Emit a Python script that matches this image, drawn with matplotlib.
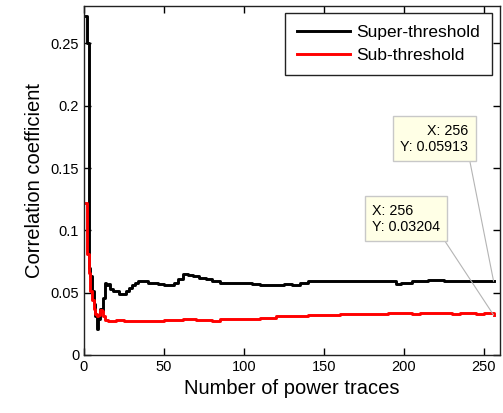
import matplotlib
matplotlib.use("Agg")
import matplotlib.pyplot as plt

plt.rcParams['font.family'] = ['Liberation Sans', 'DejaVu Sans']

# Super-threshold (black)
sup_x = [1, 2, 3, 4, 5, 6, 7, 8, 9, 10, 11, 12, 13, 14, 15, 16, 18, 20, 22, 24, 26, 28,
         30, 32, 34, 37, 40, 43, 46, 50, 53, 56, 59, 62, 65, 68, 72, 76, 80, 85, 90, 95,
         100, 105, 110, 115, 120, 125, 130, 135, 140, 145, 150, 160, 170, 180, 190, 195,
         198, 205, 215, 225, 235, 240, 248, 256]
sup_y = [0.272, 0.25, 0.07, 0.063, 0.051, 0.041, 0.031, 0.021, 0.029, 0.037, 0.035, 0.046,
         0.058, 0.056, 0.057, 0.053, 0.051, 0.051, 0.049, 0.049, 0.051, 0.054, 0.056, 0.058,
         0.059, 0.059, 0.058, 0.058, 0.057, 0.056, 0.056, 0.058, 0.061, 0.065, 0.064, 0.063,
         0.062, 0.061, 0.059, 0.058, 0.058, 0.058, 0.058, 0.057, 0.056, 0.056, 0.056, 0.057,
         0.056, 0.058, 0.059, 0.059, 0.059, 0.059, 0.059, 0.059, 0.059, 0.057, 0.058, 0.059,
         0.060, 0.059, 0.059, 0.0595, 0.059, 0.05913]

# Sub-threshold (red)
sub_x = [1, 2, 3, 4, 5, 6, 7, 8, 9, 10, 11, 12, 13, 15, 20, 25, 30, 35, 40, 45, 50, 55,
         60, 62, 66, 70, 75, 80, 85, 90, 100, 105, 110, 115, 120, 130, 140, 150, 160, 170,
         180, 190, 200, 205, 210, 220, 230, 235, 240, 245, 250, 256]
sub_y = [0.122, 0.081, 0.066, 0.051, 0.044, 0.037, 0.033, 0.031, 0.032, 0.036, 0.035,
         0.031, 0.028, 0.027, 0.028, 0.027, 0.027, 0.027, 0.027, 0.027, 0.028, 0.028,
         0.028, 0.029, 0.029, 0.028, 0.028, 0.027, 0.029, 0.029, 0.029, 0.029, 0.030,
         0.030, 0.031, 0.031, 0.032, 0.032, 0.033, 0.033, 0.033, 0.034, 0.034, 0.033,
         0.034, 0.034, 0.033, 0.034, 0.034, 0.033, 0.0335, 0.03204]

x_ticks = [0, 50, 100, 150, 200, 250]
y_ticks = [0, 0.05, 0.1, 0.15, 0.2, 0.25]
y_tick_labels = ["0", "0.05", "0.1", "0.15", "0.2", "0.25"]

fig = plt.figure(figsize=(5.03, 4.13), dpi=100)
ax = fig.add_axes([84/503, (413-355)/413, 416/503, 349/413])

ax.plot(sup_x, sup_y, color='black', lw=2.1, drawstyle='steps-post', label='Super-threshold')
ax.plot(sub_x, sub_y, color='red', lw=2.1, drawstyle='steps-post', label='Sub-threshold')

ax.set_xlim(0, 260)
ax.set_ylim(0, 0.28)
ax.set_xticks(x_ticks)
ax.set_yticks(y_ticks)
ax.set_yticklabels(y_tick_labels)
ax.tick_params(direction='in', top=True, right=True, length=5, width=1, labelsize=10.5,
               colors='black')
for s in ax.spines.values():
    s.set_linewidth(1.0)
    s.set_color('#222222')

ax.set_xlabel('Number of power traces', fontsize=14.5)
ax.set_ylabel('Correlation coefficient', fontsize=14.5, labelpad=5)

leg = ax.legend(loc='upper right', bbox_to_anchor=(0.981, 0.98), borderaxespad=0,
                fontsize=12.5, handlelength=3.1, handletextpad=0.35, labelspacing=0.45,
                fancybox=False, framealpha=1, edgecolor='#222222', borderpad=0.68)
leg.get_frame().set_linewidth(1.0)

tip_style = dict(boxstyle='square,pad=0.5', fc='#ffffe6', ec='#c8c8c8', lw=1)
ax.annotate(f"X: {sup_x[-1]}\nY: {sup_y[-1]:.5f}", xy=(sup_x[-1], sup_y[-1]),
            xytext=(219, 0.1735), textcoords='data', ha='center', va='center',
            multialignment='right', fontsize=10.3, bbox=tip_style,
            arrowprops=dict(arrowstyle='-', color='#b4b4b4', lw=0.8, relpos=(1, 0),
                            shrinkA=0, shrinkB=0))
ax.annotate(f"X: {sub_x[-1]}\nY: {sub_y[-1]:.5f}", xy=(sub_x[-1], sub_y[-1]),
            xytext=(201.3, 0.1094), textcoords='data', ha='center', va='center',
            multialignment='left', fontsize=10.3, bbox=tip_style,
            arrowprops=dict(arrowstyle='-', color='#b4b4b4', lw=0.8, relpos=(1, 0),
                            shrinkA=0, shrinkB=0))

fig.savefig('out.png', dpi=100)
